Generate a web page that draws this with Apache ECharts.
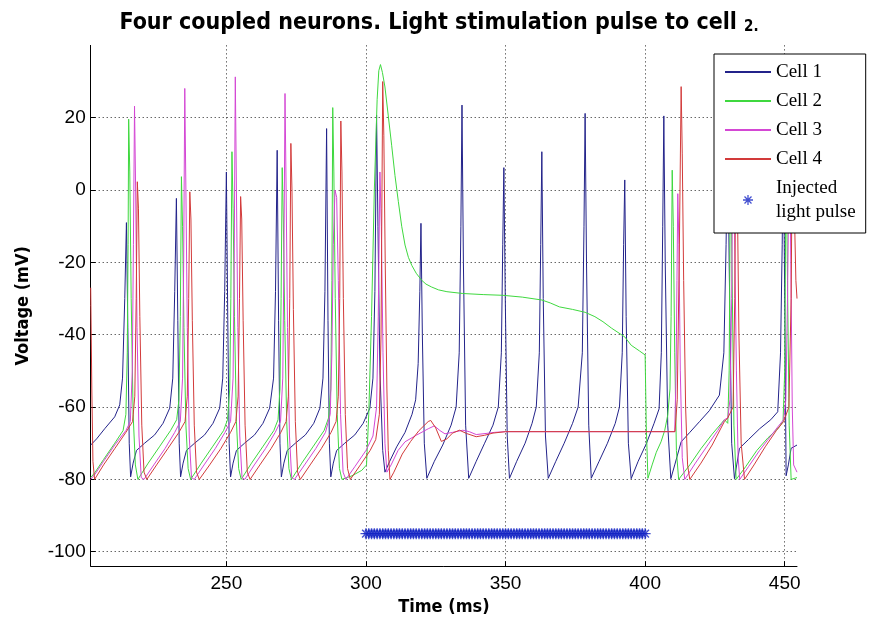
<!DOCTYPE html>
<html>
<head>
<meta charset="utf-8">
<script src="https://cdn.jsdelivr.net/npm/echarts@6/dist/echarts.min.js"></script>
<style>
  html, body { margin: 0; padding: 0; background: #fff; }
  #chart { width: 878px; height: 622px; }
</style>
</head>
<body>
<div id="chart"></div>
<script>
// Four coupled neurons, voltage traces as [time ms, mV] pairs.

const xTicks = [250, 300, 350, 400, 450];
const yTicks = [-100, -80, -60, -40, -20, 0, 20];

const cell1 = [
  [201.4,-70.5],[203.5,-68.8],[206.4,-66],[210,-62.7],[211.8,-59.4],[212.8,-52],[213.6,-30],[214.2,-9],[214.7,-38],[215.2,-70],[215.7,-79.3],[216.6,-75.5],[217.8,-72],[220.7,-70],[224.3,-67.7],[227.3,-64.5],[229.7,-60.3],
  [230.8,-52],[231.5,-28],[232.1,-2.3],[232.6,-36],[233.1,-70],[233.6,-79.3],[234.5,-75.5],[235.7,-72],[238.6,-70],[242.2,-67.7],[245.2,-64.5],[247.6,-60.3],
  [248.7,-52],[249.4,-28],[250.0,5],[250.5,-36],[251.0,-70],[251.5,-79.3],[252.4,-75.5],[253.6,-72],[256.5,-70],[260.1,-67.7],[263.1,-64.5],[265.5,-60.3],
  [266.9,-52],[267.6,-28],[268.2,11],[268.7,-36],[269.2,-70],[269.7,-79.3],[270.6,-75.5],[271.8,-72],[274.7,-70],[278.3,-67.7],[281.3,-64.5],[283.5,-60.3],
  [284.6,-52],[285.3,-28],[285.9,17],[286.4,-36],[286.9,-70],[287.4,-79.3],[288.3,-75.5],[289.5,-72],[292.4,-70],[296,-67.7],[299,-64.5],[301.4,-60.3],
  [302.5,-52],[303.2,-28],[303.8,20.7],[304.3,-10],[305,-50],[306,-72],[306.8,-78],[308.5,-75],[311,-71],[314,-67],[316.5,-62],[317.8,-58],
  [318.7,-48],[319.3,-28],[319.7,-9.2],[320.2,-40],[320.9,-70],[321.8,-79.7],[324.5,-75],[327.5,-70.5],[330.5,-65],[332.3,-60],
  [333.4,-45],[334.0,-10],[334.4,23.5],[334.9,-20],[335.7,-65],[336.8,-79.7],[339.5,-75],[342.5,-70],[345.5,-65],[347.4,-60],
  [348.5,-45],[349.0,-15],[349.4,6.2],[349.9,-30],[350.6,-68],[351.4,-79.7],[354,-75],[357,-70],[359.5,-64.5],[361,-60],
  [362.1,-45],[362.6,-15],[363.0,10.6],[363.5,-30],[364.3,-68],[365.3,-79.7],[368,-75],[371,-70],[374,-64.5],[376,-60],
  [377.5,-45],[378.1,-10],[378.5,21.2],[379.0,-20],[379.8,-65],[380.7,-79.7],[383.5,-75],[386.5,-70],[389.3,-64.5],[390.8,-60],
  [391.8,-45],[392.3,-15],[392.7,2.8],[393.2,-35],[394,-70],[395,-79.8],[397.5,-75],[400.5,-70],[403.2,-64.5],[405,-60.5],
  [405.8,-45],[406.3,-10],[406.7,20.5],[407.2,-20],[408.1,-65],[409.2,-79.8],[410.6,-76],[412.9,-69.6],[416,-67],[419.5,-64],[423,-61],[426.6,-56.7],
  [428.2,-45],[429.0,-15],[429.6,18],[430.1,-20],[431,-70],[432,-79.8],[432.8,-76],[433.8,-71.4],[437,-69],[441,-66],[445,-63.5],[447.5,-61.3],
  [448.5,-45],[449.1,-15],[449.5,16],[450,-30],[450.5,-79],[451.3,-76],[452.3,-71.4],[454.4,-70.5]
];

const cell2 = [
  [201.4,-79.5],[203,-78],[206,-74.5],[210,-70],[213,-66.5],[214,-62],[214.5,-45],[214.8,-15],[215.0,19.6],[215.4,5],[215.9,-30],[216.6,-62],[217.4,-76],[218.3,-80],
  [222,-75.5],[226,-71],[230,-66.5],[232.2,-63.5],[233,-58],[233.5,-35],[233.9,3.7],[234.3,-10],[234.8,-38],[235.5,-65],[236.3,-77],[237.2,-80],
  [241,-75.5],[245,-71],[249,-66.5],[250.4,-63.5],[251.2,-55],[251.6,-30],[252.0,10.6],[252.4,-5],[252.9,-35],[253.6,-64],[254.4,-77],[255.3,-80],
  [259,-75.5],[263,-71],[267,-66.5],[268.5,-63.5],[269.2,-55],[269.6,-30],[270.0,6.2],[270.4,-8],[270.9,-36],[271.6,-64],[272.4,-77],[273.3,-80],
  [277,-75.5],[281,-71],[285,-66.5],[286.6,-63],[287.4,-55],[287.8,-25],[288.1,22.8],[288.5,5],[289,-30],[289.7,-62],[290.5,-77],[291.4,-80],
  [295,-79],[298.5,-77.5],[300.2,-76],[301,-62],[302,-35],[303,0],[304,25],[304.6,33],[305.2,34.7],[305.9,32.5],[306.8,28.5],[308,20.5],[309.2,12.4],
  [310.4,4],[311.6,-3.2],[312.8,-10],[314,-15.2],[315.2,-18.6],[316.4,-20.8],[318,-23],[319.9,-24.9],[321.5,-26],[323.5,-26.8],[326,-27.6],[329,-28.1],
  [334.7,-28.6],[342,-28.9],[349,-29.1],[356,-29.6],[363,-30.4],[366,-31.2],[369.3,-32.3],[374,-33],[378.5,-33.8],[382,-35],[384.9,-36.4],[388,-38.2],
  [392.7,-40.6],[395,-42.9],[398,-44.5],[400,-45.6],[400.4,-65],[401,-79.7],[402.5,-76],[404,-72.5],[405.7,-69.6],[407,-66.5],[408.1,-62.2],[408.9,-55],
  [409.3,-35],[409.7,5.5],[410.1,-10],[410.6,-45],[411.2,-72],[412,-80],[416,-76],[420,-71.5],[424,-67.5],[428.4,-63.5],[429.6,-64.5],
  [430.1,-50],[430.6,14],[431.1,-20],[431.8,-65],[432.6,-80],[436,-76.5],[440,-72],[444,-68.5],[447.5,-66],[449.4,-64],
  [450,-50],[450.5,10],[451,-25],[451.6,-65],[452.3,-80],[454.4,-79.5]
];

const cell3 = [
  [201.4,-80],[203,-78.5],[206,-75],[210,-70.5],[214,-66.5],[215.6,-64],[216.3,-50],[216.7,-15],[217.1,23.2],[217.5,0],[218.0,-38],[218.7,-68],[219.5,-79.5],[220.5,-80],
  [224,-76],[228,-71.5],[231.5,-67],[233.5,-64],[234.3,-52],[234.7,-20],[235.1,28.1],[235.5,0],[236,-38],[236.7,-68],[237.5,-79.5],[238.5,-80],
  [242,-76],[246,-71.5],[249.5,-67],[251.5,-64],[252.4,-52],[252.8,-20],[253.2,31.3],[253.6,0],[254.1,-38],[254.8,-68],[255.6,-79.5],[256.6,-80],
  [260,-76],[264,-71.5],[267.5,-67],[269.4,-64],[270.2,-52],[270.6,-20],[271.0,26.7],[271.4,0],[271.9,-38],[272.6,-68],[273.4,-79.5],[274.4,-80],
  [278,-76],[282,-71.5],[285.5,-67],[287.2,-62],[287.8,-45],[288.3,-15],[288.9,0],[289.5,-2],[290.1,-25],[290.9,-62],[291.8,-78],[292.8,-80],
  [296,-76.5],[300,-72],[302.5,-68],[303.8,-60],[304.4,-35],[305.0,5],[305.5,-10],[306.1,-45],[306.8,-70],[307.5,-78],
  [309,-76],[311.5,-72],[314,-69.6],[318,-67.8],[322.3,-66],[324.5,-65.2],[326.5,-66.5],[328.3,-67.4],[331,-67],[334.7,-66.4],[337,-66.8],
  [339.5,-67.6],[343,-67.3],[346,-67],[350,-66.8],[380,-66.8],[410.6,-66.8],
  [411.1,-50],[411.4,-25],[411.7,-1],[412.1,-15],[412.6,-50],[413.3,-74],[414.2,-80],[418,-75.5],[422,-71],[426,-66.5],[428.4,-63.5],[429.6,-63],
  [430.4,-58],[431,-30],[431.5,22],[432,-10],[432.7,-50],[433.3,-74],[433.9,-80],[437,-76.5],[441,-72],[445,-68],[447.5,-65.5],[449.6,-63.5],
  [450.4,-58],[451.0,-30],[451.7,15],[452.2,-20],[452.7,-60],[453.2,-76],[454.4,-78]
];

const cell4 = [
  [201.4,-27],[201.8,-55],[202.2,-75],[202.8,-80],[206,-76],[210,-71.5],[214,-67],[216.4,-64],[217.2,-57],[217.7,-30],[218.1,2.3],[218.5,-5],[219.0,-35],[219.7,-65],[220.5,-78],[221.5,-80],
  [225,-76],[229,-71.5],[233,-67],[235.2,-64],[236,-57],[236.5,-30],[236.9,-0.5],[237.3,-8],[237.8,-36],[238.5,-65],[239.3,-78],[240.3,-80],
  [244,-76],[248,-71.5],[251.5,-67],[253.4,-64],[254.2,-57],[254.7,-30],[255.1,-1.8],[255.5,-8],[256,-36],[256.7,-65],[257.5,-78],[258.5,-80],
  [262,-76],[266,-71.5],[269.5,-67],[271.4,-64],[272.2,-57],[272.7,-30],[273.1,12.9],[273.5,0],[274,-33],[274.7,-64],[275.5,-78],[276.5,-80],
  [280,-76],[284,-71.5],[287.5,-67],[289.3,-64],[290.1,-57],[290.6,-30],[291.0,19.1],[291.4,5],[291.9,-30],[292.6,-62],[293.4,-77],[294.4,-80],
  [298,-76],[301.5,-72],[303.5,-69],[304.8,-62],[305.4,-40],[305.7,-5],[306.0,30],[306.4,15],[306.9,-20],[307.5,-55],[308,-72],[308.6,-80],
  [310,-78],[313,-73],[316,-69.5],[319,-66.5],[322.3,-64],[323.2,-63.7],[325,-65.8],[327,-69.5],[329,-68.8],[331,-67.2],[333.5,-66.4],[336,-67.3],
  [339.5,-68.2],[342.5,-67.8],[345.5,-67.2],[350,-66.8],[380,-66.8],[410.7,-66.8],
  [411.5,-58],[412.2,-20],[412.9,28.6],[413.3,10],[413.8,-25],[414.5,-60],[415.2,-76],[416,-80],[420,-75.5],[424,-70.5],[428.4,-64],[429.6,-63],
  [431.5,-60],[432.1,-30],[432.6,22],[433,0],[433.6,-40],[434.4,-70],[435.6,-80],[439,-76],[443,-71],[447,-66.5],[449.6,-64],
  [451.5,-60],[452.3,-30],[452.8,20],[453.3,0],[454.0,-25],[454.4,-30]
];

// light pulse markers, one per ms from 300 to 400
const pulseTimes = [
  300,301,302,303,304,305,306,307,308,309,310,311,312,313,314,315,316,317,318,319,
  320,321,322,323,324,325,326,327,328,329,330,331,332,333,334,335,336,337,338,339,
  340,341,342,343,344,345,346,347,348,349,350,351,352,353,354,355,356,357,358,359,
  360,361,362,363,364,365,366,367,368,369,370,371,372,373,374,375,376,377,378,379,
  380,381,382,383,384,385,386,387,388,389,390,391,392,393,394,395,396,397,398,399,400
];
const pulseLevel = -95;

const COL = { c1: "#23238a", c2: "#3fd83f", c3: "#d447d4", c4: "#d23a3a", pulse: "#1424c4" };

// MATLAB-style asterisk marker (+ and x overlaid)
const ASTERISK =
  "path://M-10 -1.3L10 -1.3L10 1.3L-10 1.3Z M-1.3 -10L1.3 -10L1.3 10L-1.3 10Z " +
  "M-6.1 -7.9L7.9 6.1L6.1 7.9L-7.9 -6.1Z M6.1 -7.9L7.9 -6.1L-6.1 7.9L-7.9 6.1Z";

const TICKFONT = { color: "#000", fontFamily: "'Liberation Sans', Arial, sans-serif", fontSize: 19 };
const BOLDFONT = "'DejaVu Sans Condensed', 'Liberation Sans Narrow', 'DejaVu Sans', sans-serif";
const dotted = { color: "#222", width: 1, type: [1, 3] };

function trace(name, data, color) {
  return {
    name, type: "line", data, symbol: "none", showSymbol: false,
    lineStyle: { color, width: 1 }, itemStyle: { color },
    emphasis: { disabled: true }, silent: true
  };
}

// legend entry for a trace: line only, hide the round marker
const lineItem = (name) => ({ name, itemStyle: { opacity: 0 } });

const chart = echarts.init(document.getElementById("chart"), null, { renderer: "canvas" });
chart.setOption({
  animation: false,
  backgroundColor: "#fff",
  title: {
    text: "{a|Four coupled neurons. Light stimulation pulse to cell }{b|2.}",
    left: "center", top: 7,
    textStyle: {
      rich: {
        a: { fontFamily: BOLDFONT, fontWeight: "bold", fontSize: 23, color: "#000" },
        b: { fontFamily: BOLDFONT, fontWeight: "bold", fontSize: 15, color: "#000", verticalAlign: "bottom" }
      }
    }
  },
  grid: { left: 90.7, right: 81, top: 45.4, bottom: 55.8, containLabel: false },
  xAxis: {
    type: "value", min: 201.4, max: 454.4,
    name: "Time (ms)", nameLocation: "middle", nameGap: 30,
    nameTextStyle: { fontFamily: BOLDFONT, fontWeight: "bold", fontSize: 18, color: "#000" },
    axisLine: { onZero: false, lineStyle: { color: "#000", width: 1 } },
    axisTick: { inside: true, length: 5, customValues: xTicks, lineStyle: { color: "#000" } },
    axisLabel: { ...TICKFONT, margin: 8, customValues: xTicks },
    splitLine: { show: true, lineStyle: dotted }
  },
  yAxis: {
    type: "value", min: -104, max: 40,
    name: "Voltage (mV)", nameLocation: "middle", nameGap: 58,
    nameTextStyle: { fontFamily: BOLDFONT, fontWeight: "bold", fontSize: 18, color: "#000" },
    axisLine: { show: true, onZero: false, lineStyle: { color: "#000", width: 1 } },
    axisTick: { show: true, inside: true, length: 5, customValues: yTicks, lineStyle: { color: "#000" } },
    axisLabel: { ...TICKFONT, margin: 5, customValues: yTicks },
    splitLine: { show: true, lineStyle: dotted }
  },
  legend: {
    orient: "vertical", left: 714, top: 54,
    backgroundColor: "#fff", borderColor: "#000", borderWidth: 1, borderRadius: 0,
    padding: [6, 10, 9, 10], itemGap: 5, itemWidth: 46, itemHeight: 10,
    textStyle: { fontFamily: "'Liberation Serif', 'Times New Roman', serif", fontSize: 19, color: "#000", lineHeight: 24 },
    selectedMode: false,
    data: [
      lineItem("Cell 1"), lineItem("Cell 2"), lineItem("Cell 3"), lineItem("Cell 4"),
      { name: "Injected\nlight pulse" }
    ]
  },
  series: [
    trace("Cell 1", cell1, COL.c1),
    trace("Cell 2", cell2, COL.c2),
    trace("Cell 3", cell3, COL.c3),
    trace("Cell 4", cell4, COL.c4),
    {
      name: "Injected\nlight pulse", type: "scatter",
      data: pulseTimes.map(t => [t, pulseLevel]),
      symbol: ASTERISK, symbolSize: 11, symbolKeepAspect: true,
      itemStyle: { color: COL.pulse }, silent: true, z: 5
    }
  ]
});
</script>
</body>
</html>
